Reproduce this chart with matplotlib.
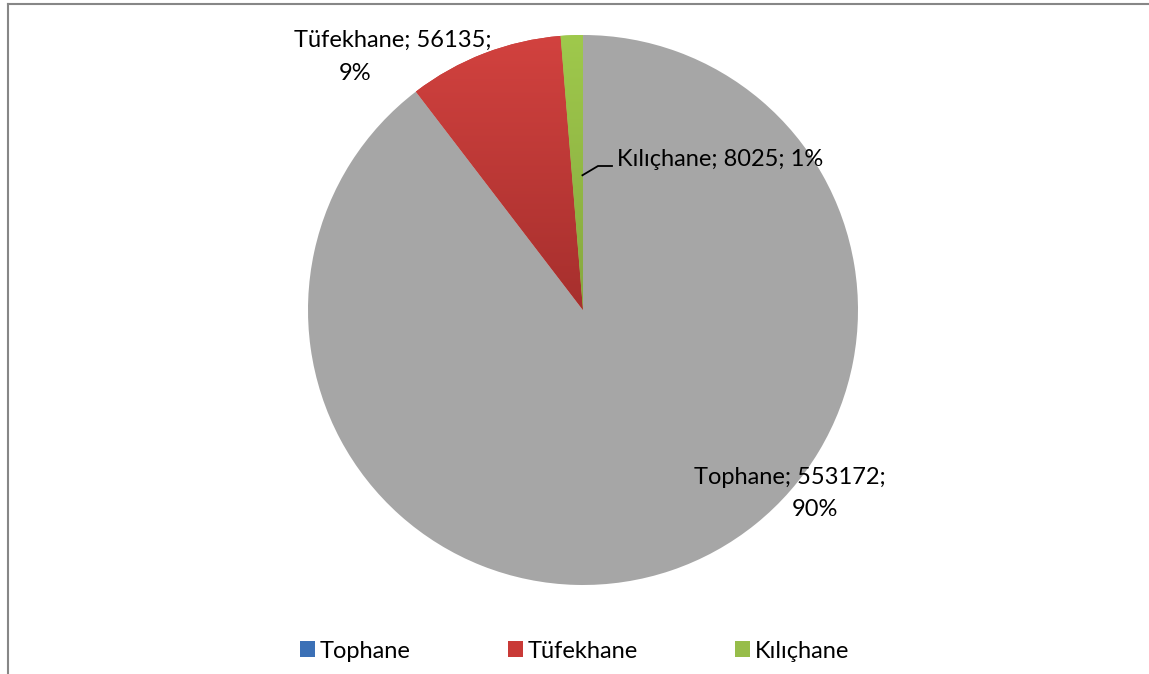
import numpy as np
import matplotlib.pyplot as plt
from matplotlib.patches import Patch
from matplotlib.lines import Line2D
from matplotlib.colors import LinearSegmentedColormap

plt.rcParams['font.family'] = ['Lato', 'DejaVu Sans']

# Data
names = ['Tophane', 'Tüfekhane', 'Kılıçhane']
values = [553172, 56135, 8025]
percents = ['90%', '9%', '1%']
slice_colors = ['#a6a6a6', '#c23b37', '#94bb48']
grad_colors = [None, ('#d2423f', '#a62f2d'), ('#9fc94c', '#86a83f')]
legend_colors = ['#3b70b6', '#c93a37', '#97bd4a']

W, H = 1149, 674
fig = plt.figure(figsize=(W / 100, H / 100), dpi=100)
ax = fig.add_axes([0, 0, 1, 1])
ax.set_xlim(0, W)
ax.set_ylim(0, H)
ax.set_aspect('equal')

cx, cy, r = 583, H - 310, 275
wedges, _ = ax.pie(values, colors=slice_colors, startangle=90, counterclock=False,
                   center=(cx, cy), radius=r, frame=True)
ax.axis('off')

# vertical gradient on the coloured slices
for w, gc in zip(wedges, grad_colors):
    if gc is None:
        continue
    cmap = LinearSegmentedColormap.from_list('g', [gc[1], gc[0]])
    grad = np.linspace(0, 1, 256).reshape(-1, 1)
    im = ax.imshow(grad, cmap=cmap, origin='lower', aspect='auto',
                   extent=(cx - r, cx + r, cy, cy + r), zorder=w.get_zorder() + 0.1)
    im.set_clip_path(w)
ax.set_xlim(0, W)
ax.set_ylim(0, H)

fs = 17
ax.text(393, H - 40, f'{names[1]}; {values[1]};', ha='center', va='center', fontsize=fs)
ax.text(355, H - 73, percents[1], ha='center', va='center', fontsize=fs)
ax.text(790, H - 478, f'{names[0]}; {values[0]};', ha='center', va='center', fontsize=fs)
ax.text(815, H - 510, percents[0], ha='center', va='center', fontsize=fs)

# leader line for the small slice
w = wedges[2]
ang = np.deg2rad(w.theta1 + (w.theta2 - w.theta1) * 0.05)
x0 = cx + 0.49 * r * np.cos(ang)
y0 = cy + 0.49 * r * np.sin(ang)
ax.plot([x0, 598, 612], [y0, H - 166, H - 166], color='black', lw=1.3)
ax.text(617, H - 160, f'{names[2]}; {values[2]}; {percents[2]}', ha='left', va='center',
        fontsize=fs)

handles = [Patch(facecolor=c, edgecolor='none') for c in legend_colors]
fig.legend(handles, names, loc='center', bbox_to_anchor=(0.5, 1 - 651 / H), ncol=3,
           frameon=False, fontsize=fs, handlelength=0.65, handleheight=0.65,
           handletextpad=0.2, columnspacing=4.1)

# chart border (left and top)
fig.add_artist(Line2D([8 / W, 8 / W], [0, 1 - 4 / H], color='#878787', lw=1.5,
                      transform=fig.transFigure))
fig.add_artist(Line2D([8 / W, 1148 / W], [1 - 4 / H, 1 - 4 / H], color='#878787', lw=1.5,
                      transform=fig.transFigure))

fig.savefig('out.png', dpi=100)
